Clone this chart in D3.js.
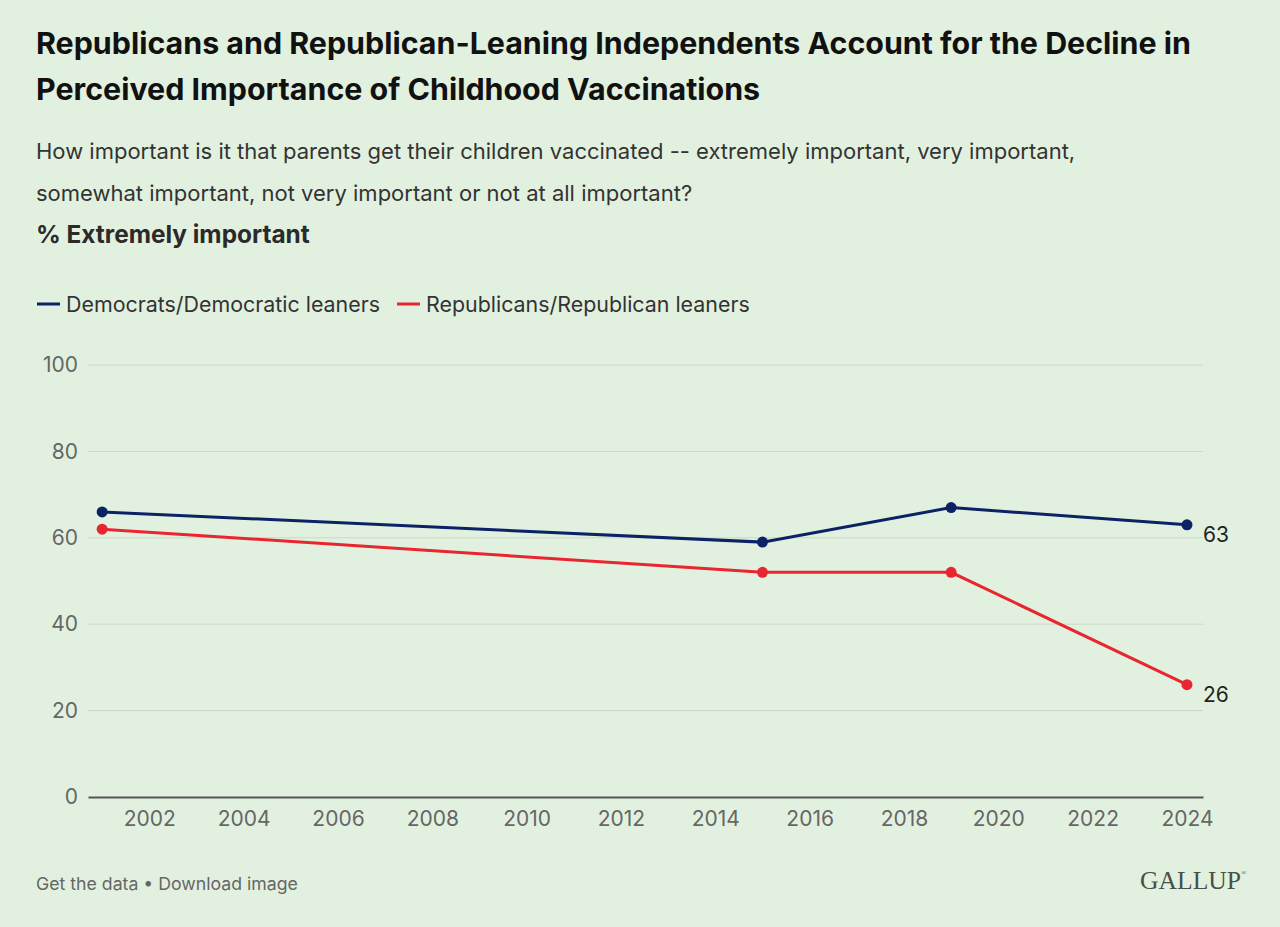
<!DOCTYPE html>
<html><head><meta charset="utf-8">
<script src="https://cdn.jsdelivr.net/npm/d3@7"></script>
<style>
html,body{margin:0;padding:0;background:#e2f1df;}
svg{display:block;}
</style></head>
<body>
<svg id="c" width="1280" height="927" style="font-family:Inter,'Noto Sans',sans-serif"></svg>
<script>
const years = [2001, 2015, 2019, 2024];
const demValues = [66, 59, 67, 63];
const repValues = [62, 52, 52, 26];
const seriesNames = ["Democrats/Democratic leaners", "Republicans/Republican leaners"];
const seriesColors = ["#0b2265", "#e8262f"];
const xTicks = [2002, 2004, 2006, 2008, 2010, 2012, 2014, 2016, 2018, 2020, 2022, 2024];
const yTicks = [0, 20, 40, 60, 80, 100];

const svg = d3.select("#c");
svg.append("rect").attr("width",1280).attr("height",927).attr("fill","#e2f1df");

const title = ["Republicans and Republican-Leaning Independents Account for the Decline in",
               "Perceived Importance of Childhood Vaccinations"];
title.forEach((t,i)=>svg.append("text").attr("x",36).attr("y",54+i*46)
  .attr("font-size",30.4).attr("font-weight",700).attr("fill","#111").text(t));
const sub = ["How important is it that parents get their children vaccinated -- extremely important, very important,",
             "somewhat important, not very important or not at all important?"];
sub.forEach((t,i)=>svg.append("text").attr("x",36).attr("y",159+i*42)
  .attr("font-size",22).attr("fill","#333").text(t));
svg.append("text").attr("x",36).attr("y",243).attr("font-size",24.4).attr("font-weight",700)
  .attr("fill","#2a2a2a").text("% Extremely important");

// legend
const legX = [37, 397];
seriesNames.forEach((n,i)=>{
  svg.append("line").attr("x1",legX[i]).attr("x2",legX[i]+23).attr("y1",304).attr("y2",304)
    .attr("stroke",seriesColors[i]).attr("stroke-width",3);
  svg.append("text").attr("x",legX[i]+29).attr("y",312).attr("font-size",21.4).attr("fill","#333").text(n);
});

const x = d3.scaleLinear().domain([2000.7, 2024.34]).range([88, 1203]);
const y = d3.scaleLinear().domain([0, 100]).range([797, 365]);

// grid
svg.append("g").selectAll("line").data(yTicks.filter(d=>d>0)).join("line")
  .attr("x1",88).attr("x2",1203).attr("y1",d=>y(d)).attr("y2",d=>y(d))
  .attr("stroke","#c9d9c6").attr("stroke-width",1);

const yAxis = d3.axisLeft(y).tickValues(yTicks).tickSize(0).tickPadding(10);
const ya = svg.append("g").attr("transform","translate(88,0)").call(yAxis);
ya.select(".domain").remove();
ya.selectAll("text").attr("font-size",21).attr("fill","#666").style("font-family","Inter,sans-serif");

const xAxis = d3.axisBottom(x).tickValues(xTicks).tickFormat(d3.format("d")).tickSize(0).tickPadding(14);
const xa = svg.append("g").attr("transform","translate(0,797)").call(xAxis);
xa.select(".domain").attr("stroke","#555").attr("stroke-width",2);
xa.selectAll("text").attr("font-size",21).attr("fill","#666").style("font-family","Inter,sans-serif");

const allSeries = [demValues, repValues];
const line = d3.line().x((d,i)=>x(years[i])).y(d=>y(d));
allSeries.forEach((vals,si)=>{
  svg.append("path").datum(vals).attr("d",line).attr("fill","none")
    .attr("stroke",seriesColors[si]).attr("stroke-width",3);
  svg.selectAll(null).data(vals).join("circle")
    .attr("cx",(d,i)=>x(years[i])).attr("cy",d=>y(d)).attr("r",5.5).attr("fill",seriesColors[si]);
  const last = vals.length-1;
  svg.append("text").attr("x",x(years[last])+16).attr("y",y(vals[last])+17)
    .attr("font-size",21).attr("fill","#222").text(vals[last]);
});

svg.append("text").attr("x",36).attr("y",890).attr("font-size",17.7).attr("fill","#666")
  .text("Get the data \u2022 Download image");
svg.append("text").attr("x",1140).attr("y",889).attr("font-size",25)
  .style("font-family","'Liberation Serif','DejaVu Serif',serif").attr("fill","#4a4f48")
  .attr("textLength",101).attr("lengthAdjust","spacingAndGlyphs").text("GALLUP");
svg.append("text").attr("x",1241).attr("y",875).attr("font-size",7)
  .style("font-family","'Liberation Serif',serif").attr("fill","#4a4f48").text("\u00ae");
</script>
</body></html>
